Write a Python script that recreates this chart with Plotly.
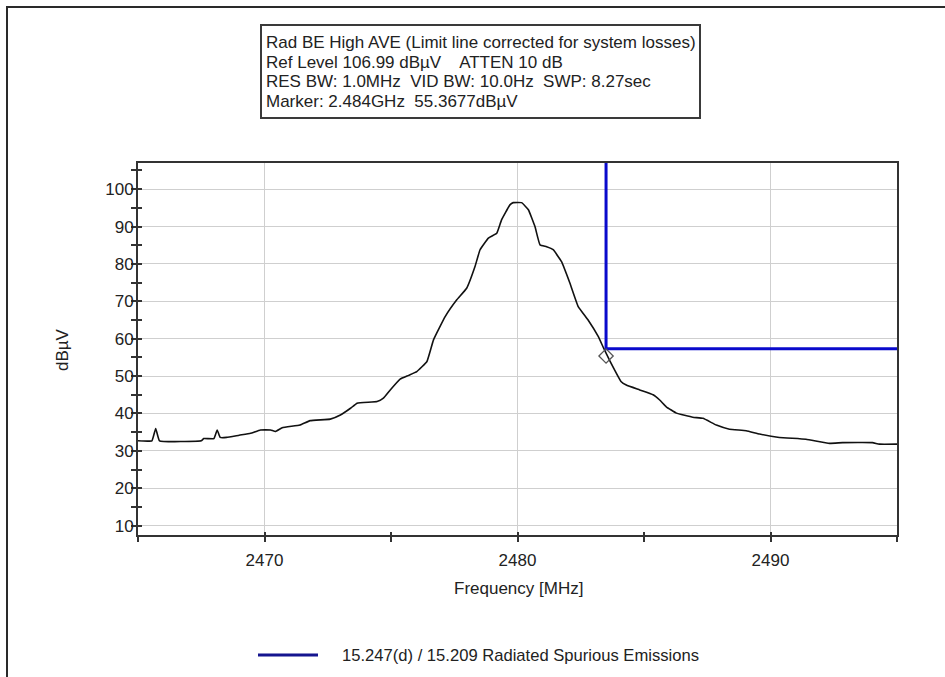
import plotly.graph_objects as go

# ---------------- data ----------------
freq_mhz = [2465.0, 2465.55, 2465.7, 2465.85, 2467.5, 2467.6, 2468.0, 2468.13, 2468.25, 2468.5,
            2469.0, 2469.45, 2469.84, 2470.24, 2470.43, 2470.7, 2471.4, 2471.8, 2472.6, 2473.0,
            2473.4, 2473.66, 2474.45, 2474.7, 2474.97, 2475.36, 2475.7, 2476.02, 2476.42, 2476.68,
            2477.14, 2477.6, 2477.99, 2478.32, 2478.52, 2478.85, 2479.18, 2479.37, 2479.7, 2479.83,
            2480.16, 2480.43, 2480.69, 2480.89, 2481.15, 2481.41, 2481.74, 2482.07, 2482.4, 2482.79,
            2483.19, 2483.41, 2483.65, 2484.1, 2484.3, 2484.83, 2485.36, 2485.62, 2485.88, 2486.28,
            2486.93, 2487.33, 2487.86, 2488.38, 2489.04, 2489.57, 2490.35, 2491.4, 2492.33, 2492.85,
            2494.03, 2494.3, 2495.0]
level_dbuv = [32.7, 32.7, 36.0, 32.7, 32.7, 33.3, 33.3, 35.6, 33.6, 33.6,
              34.2, 34.7, 35.6, 35.6, 35.2, 36.2, 36.9, 38.1, 38.5, 39.6,
              41.4, 42.75, 43.2, 44.1, 46.3, 49.2, 50.2, 51.2, 53.9, 59.7,
              65.9, 70.4, 73.5, 79.3, 83.8, 86.9, 88.2, 91.8, 95.8, 96.4,
              96.4, 94.5, 90.0, 85.1, 84.6, 83.8, 80.6, 74.9, 68.6, 65.0,
              60.6, 57.4, 54.1, 48.5, 47.6, 46.3, 45.0, 43.6, 41.8, 40.1,
              39.0, 38.7, 36.9, 35.8, 35.4, 34.5, 33.6, 33.1, 32.0, 32.2,
              32.2, 31.8, 31.8]

limit_freq = [2483.5, 2483.5, 2495.0]
limit_level = [107.0, 57.3, 57.3]

marker_freq = [2483.5]
marker_level = [55.3677]

x_range = [2465, 2495]
y_range = [7.5, 107.0]

info_lines = [
    "Rad BE High AVE (Limit line corrected for system losses)",
    "Ref Level 106.99 dBµV    ATTEN 10 dB",
    "RES BW: 1.0MHz  VID BW: 10.0Hz  SWP: 8.27sec",
    "Marker: 2.484GHz  55.3677dBµV",
]
legend_label = "15.247(d) / 15.209 Radiated Spurious Emissions"
x_title = "Frequency [MHz]"
y_title = "dBµV"

# ---------------- layout geometry ----------------
W, H = 945, 677
L, R, T, B = 138, 897, 163, 535
pw, ph = R - L, B - T


def px(xp):
    return (xp - L) / pw


def py(yp):
    return (B - yp) / ph


FONT = "Arial, Liberation Sans, sans-serif"
TXT = "#222222"
FS = 17

fig = go.Figure()

fig.add_trace(go.Scatter(x=freq_mhz, y=level_dbuv, mode="lines",
                         line=dict(color="#111111", width=1.6, shape="spline", smoothing=0.3),
                         showlegend=False, hoverinfo="x+y"))
fig.add_trace(go.Scatter(x=limit_freq, y=limit_level, mode="lines",
                         line=dict(color="#0A0ACC", width=3), name=legend_label,
                         showlegend=False))
fig.add_trace(go.Scatter(x=marker_freq, y=marker_level, mode="markers",
                         marker=dict(symbol="diamond-open", size=11, color="#555555",
                                     line=dict(width=1.3)),
                         showlegend=False))

axis_common = dict(showline=True, linecolor="#333333", linewidth=2, mirror=True,
                   gridcolor="#CFCFCF", gridwidth=1, zeroline=False,
                   tickfont=dict(family=FONT, size=FS, color=TXT),
                   ticks="outside", tickcolor="#333333", tickwidth=2)

fig.update_layout(
    width=W, height=H,
    margin=dict(l=L, r=W - R, t=T, b=H - B, pad=0),
    paper_bgcolor="white", plot_bgcolor="white",
    font=dict(family=FONT, color=TXT),
    showlegend=False,
    xaxis=dict(range=x_range, tick0=2470, dtick=10, ticklen=5, ticklabelstandoff=4,
               minor=dict(dtick=5, tick0=2465, ticks="outside", ticklen=5,
                          tickcolor="#333333", tickwidth=2, showgrid=False),
               **axis_common),
    yaxis=dict(range=y_range, tick0=0, dtick=10, ticklen=5, ticklabelstandoff=-6,
               minor=dict(dtick=5, tick0=0, ticks="outside", ticklen=5,
                          tickcolor="#333333", tickwidth=2, showgrid=False),
               **axis_common),
    xaxis2=dict(overlaying="x", anchor="y", side="bottom", range=x_range, tick0=2470, dtick=10,
                ticks="inside", ticklen=3, tickcolor="#333333", tickwidth=2,
                showticklabels=False, showgrid=False, showline=False, zeroline=False,
                minor=dict(dtick=5, tick0=2465, ticks="inside", ticklen=3,
                           tickcolor="#333333", tickwidth=2)),
    yaxis2=dict(overlaying="y", anchor="x", side="left", range=y_range, tick0=0, dtick=10,
                ticks="inside", ticklen=4, tickcolor="#333333", tickwidth=2,
                showticklabels=False, showgrid=False, showline=False, zeroline=False,
                minor=dict(dtick=5, tick0=0, ticks="inside", ticklen=4,
                           tickcolor="#333333", tickwidth=2)),
)

# invisible trace on overlay axes so they render
fig.add_trace(go.Scatter(x=[x_range[0]], y=[y_range[0]], xaxis="x2", yaxis="y2",
                         mode="markers", marker=dict(opacity=0), showlegend=False,
                         hoverinfo="skip"))

shapes = []
# outer window frame (runs off the bottom/right of the canvas)
shapes.append(dict(type="path", xref="paper", yref="paper",
                   path=f"M {px(7)} {py(690)} L {px(7)} {py(7)} L {px(960)} {py(7)}",
                   line=dict(color="#2A2A2A", width=2)))
# info box
shapes.append(dict(type="rect", xref="paper", yref="paper",
                   x0=px(261), x1=px(700), y0=py(25), y1=py(118),
                   line=dict(color="#3A3A3A", width=2), fillcolor="white"))
# legend sample line
shapes.append(dict(type="line", xref="paper", yref="paper",
                   x0=px(258), x1=px(318), y0=py(655), y1=py(655),
                   line=dict(color="#15158F", width=3)))
fig.update_layout(shapes=shapes)

annotations = []
for i, line in enumerate(info_lines):
    annotations.append(dict(xref="paper", yref="paper", x=px(264), y=py(42 + 20 * i),
                            xanchor="left", yanchor="middle", text=line, showarrow=False,
                            font=dict(family=FONT, size=FS, color=TXT)))
annotations.append(dict(xref="paper", yref="paper", x=px(518), y=py(588), text=x_title,
                        showarrow=False, xanchor="center", yanchor="middle",
                        font=dict(family=FONT, size=FS, color=TXT)))
annotations.append(dict(xref="paper", yref="paper", x=px(62), y=py(350), text=y_title,
                        showarrow=False, textangle=-90, xanchor="center", yanchor="middle",
                        font=dict(family=FONT, size=FS, color=TXT)))
annotations.append(dict(xref="paper", yref="paper", x=px(340), y=py(655), text=legend_label,
                        showarrow=False, xanchor="left", yanchor="middle",
                        font=dict(family=FONT, size=16.6, color=TXT)))
fig.update_layout(annotations=annotations)

fig.write_html("out.html", config={"displayModeBar": False},
               post_script="document.body.style.margin='0';document.body.style.overflow='hidden';")
